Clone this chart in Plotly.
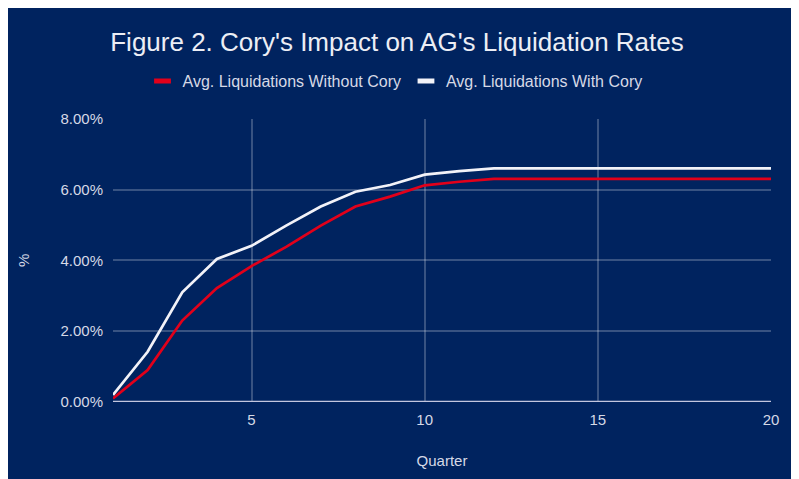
import plotly.graph_objects as go

quarters = list(range(1, 21))
without_cory = [0.10, 0.90, 2.30, 3.22, 3.84, 4.38, 4.98, 5.52, 5.80, 6.12, 6.22, 6.30,
                6.30, 6.30, 6.30, 6.30, 6.30, 6.30, 6.30, 6.30]
with_cory = [0.20, 1.42, 3.10, 4.04, 4.41, 4.98, 5.52, 5.94, 6.13, 6.42, 6.52, 6.60,
             6.60, 6.60, 6.60, 6.60, 6.60, 6.60, 6.60, 6.60]
series_names = ["Avg. Liquidations Without Cory", "Avg. Liquidations With Cory"]
series_colors = ["#e2001a", "#f2f2f8"]
y_ticks = [0, 2, 4, 6, 8]
y_tick_labels = ["0.00%", "2.00%", "4.00%", "6.00%", "8.00%"]
x_ticks = [5, 10, 15, 20]

NAVY = "#00235f"
TXT = "#d6d9e6"
FONT = "Liberation Sans, Arial, sans-serif"

fig = go.Figure()
for vals, name, col in [(without_cory, series_names[0], series_colors[0]),
                        (with_cory, series_names[1], series_colors[1])]:
    fig.add_trace(go.Scatter(x=quarters, y=vals, mode="lines", name=name,
                             line=dict(color=col, width=2.7), showlegend=False))
    fig.add_trace(go.Scatter(x=[None], y=[None], mode="markers", name=name,
                             marker=dict(symbol="line-ew", size=12,
                                         line=dict(color=col, width=5)),
                             showlegend=True))

W, H = 791, 471
L, R, T, B = 105, 28, 109, 77

fig.update_layout(
    width=W, height=H,
    margin=dict(l=L, r=R, t=T, b=B),
    paper_bgcolor=NAVY, plot_bgcolor=NAVY,
    font=dict(family=FONT, color=TXT, size=15),
    title=dict(text="Figure 2. Cory's Impact on AG's Liquidation Rates",
               x=389 / W, xref="container", xanchor="center",
               y=1 - 34 / H, yref="container", yanchor="middle",
               font=dict(size=26, color="#eceef5", family=FONT)),
    legend=dict(orientation="h", x=387 / W, xanchor="center", xref="container",
                y=1 - 73 / H, yref="container", yanchor="middle",
                font=dict(size=16, color=TXT), itemwidth=30,
                bgcolor="rgba(0,0,0,0)", traceorder="normal"),
    xaxis=dict(range=[1, 20], tickvals=x_ticks, showgrid=True,
               gridcolor="rgba(255,255,255,0.22)", gridwidth=1.5,
               zeroline=False, showline=False, ticks="",
               tickfont=dict(size=15, color=TXT), ticklabelstandoff=7,
               title=dict(text="Quarter", font=dict(size=15, color=TXT), standoff=28)),
    yaxis=dict(range=[0, 8], tickvals=y_ticks, ticktext=y_tick_labels,
               showgrid=True, gridcolor="rgba(255,255,255,0.22)", gridwidth=1.5,
               zeroline=False, showline=False, ticks="",
               tickfont=dict(size=15, color=TXT), ticklabelstandoff=9,
               title=dict(text="%", font=dict(size=15, color=TXT), standoff=27)),
    shapes=[
        dict(type="line", xref="paper", yref="y", x0=0, x1=1, y0=0, y1=0,
             line=dict(color="#c3c6de", width=2.5), layer="above"),
    ],
)

fig.write_html("out.html")
